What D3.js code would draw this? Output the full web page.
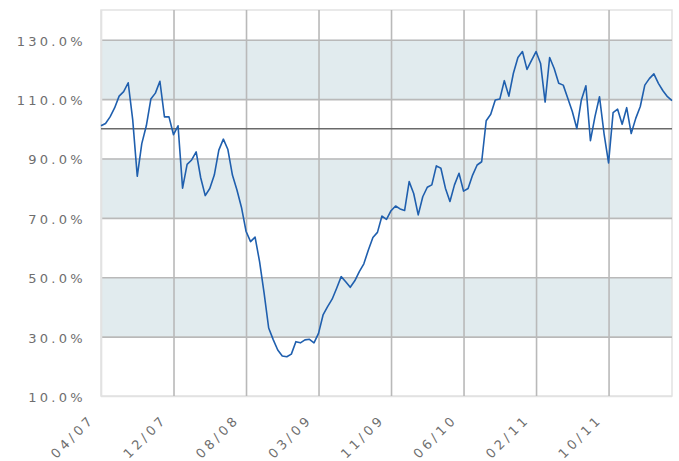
<!DOCTYPE html>
<html>
<head>
<meta charset="utf-8">
<script src="https://cdn.jsdelivr.net/npm/d3@7/dist/d3.min.js"></script>
<style>
  body { margin: 0; background: #fff; }
  svg text { font-family: "DejaVu Sans", Verdana, sans-serif; fill: #6e6e6e; }
</style>
</head>
<body>
<div id="chart"></div>
<script>
"use strict";

// relative performance (%), one value per step, 16 steps between date labels
var values = [
  101.0, 101.8, 104.0, 107.0, 111.0, 112.5, 115.5, 103.0, 84.0, 95.0,
  101.0, 110.0, 112.0, 116.0, 104.0, 104.0, 98.0, 101.0, 80.0, 88.0,
  89.5, 92.2, 83.5, 77.5, 79.9, 84.4, 92.8, 96.5, 93.0, 84.4,
  79.4, 73.5, 65.5, 62.0, 63.5, 55.2, 44.6, 32.9, 29.0, 25.5,
  23.5, 23.2, 24.1, 28.3, 27.9, 28.9, 29.1, 27.9, 31.1, 37.3,
  40.1, 42.6, 46.3, 50.2, 48.5, 46.6, 48.8, 51.9, 54.5, 59.2,
  63.4, 65.1, 70.6, 69.5, 72.4, 74.0, 73.0, 72.5, 82.2, 78.2,
  71.0, 77.1, 80.3, 81.1, 87.5, 86.7, 80.0, 75.5, 81.1, 85.0,
  79.0, 79.9, 84.4, 87.8, 88.9, 102.7, 104.9, 109.7, 110.0, 116.2,
  111.0, 118.7, 124.0, 126.0, 120.0, 123.0, 126.0, 122.0, 109.0, 124.0,
  120.3, 115.3, 114.7, 110.3, 105.8, 100.1, 109.7, 114.5, 96.0, 104.1,
  110.8, 98.4, 88.5, 105.4, 106.6, 101.5, 107.1, 98.4, 103.5, 107.5,
  114.7, 116.9, 118.5, 115.3, 112.8, 110.8, 109.5
];

var dateLabels = ["04/07", "12/07", "08/08", "03/09", "11/09", "06/10", "02/11", "10/11"];
var labelStep = 16;

var yTicks = [10, 30, 50, 70, 90, 110, 130];
var shadedBands = [[30, 50], [70, 90], [110, 130]];
var baseline = 100;

var width = 679, height = 461;
var margin = { top: 10, right: 7, bottom: 65, left: 101 };
var innerW = width - margin.left - margin.right,
    innerH = height - margin.top - margin.bottom;

var svg = d3.select("#chart").append("svg")
  .attr("width", width)
  .attr("height", height);

var g = svg.append("g")
  .attr("transform", "translate(" + margin.left + "," + margin.top + ")");

var x = d3.scaleLinear().domain([0, values.length - 1]).range([0, innerW]);
var y = d3.scaleLinear().domain([10, 140]).range([innerH, 0]);

// shaded bands
g.selectAll("rect.band")
  .data(shadedBands)
  .enter()
  .append("rect")
  .attr("class", "band")
  .attr("x", 0)
  .attr("width", innerW)
  .attr("y", function(d) { return y(d[1]); })
  .attr("height", function(d) { return y(d[0]) - y(d[1]); })
  .style("fill", "#e1ebee");

// plot frame
g.append("rect")
  .attr("x", 0).attr("y", 0)
  .attr("width", innerW).attr("height", innerH)
  .style("fill", "none")
  .style("stroke", "#e2e2e2")
  .style("stroke-width", 1.5);

// horizontal grid + labels
var yAxis = d3.axisLeft(y)
  .tickValues(yTicks)
  .tickSize(-innerW)
  .tickPadding(15)
  .tickFormat(function(d) { return d3.format(".1f")(d) + "%"; });

var yg = g.append("g").call(yAxis);
yg.select(".domain").remove();
yg.selectAll(".tick line")
  .style("stroke", function(d) { return d === 10 ? "#e2e2e2" : "#b9b9b9"; })
  .style("stroke-width", 1.6);
yg.selectAll(".tick text")
  .style("font-size", "13px")
  .style("letter-spacing", "3.3px")
  .attr("dy", "0.42em");

// vertical grid + date labels
var tickIdx = dateLabels.map(function(d, i) { return i * labelStep; });
var xAxis = d3.axisBottom(x)
  .tickValues(tickIdx)
  .tickSize(-innerH)
  .tickFormat(function(d, i) { return dateLabels[i]; });

var xg = g.append("g")
  .attr("transform", "translate(0," + innerH + ")")
  .call(xAxis);
xg.select(".domain").remove();
xg.selectAll(".tick line")
  .style("stroke", function(d) { return d === 0 ? "#e2e2e2" : "#b9b9b9"; })
  .style("stroke-width", 1.6);
xg.selectAll(".tick text")
  .style("font-size", "13px")
  .style("letter-spacing", "3.6px")
  .style("text-anchor", "end")
  .attr("dy", 0)
  .attr("y", 0)
  .attr("transform", "translate(-6,24) rotate(-45)");

// 100% reference line
g.append("line")
  .attr("x1", 0).attr("x2", innerW)
  .attr("y1", y(baseline)).attr("y2", y(baseline))
  .style("stroke", "#6a6a6a")
  .style("stroke-width", 1.3);

// performance line
var line = d3.line()
  .x(function(d, i) { return x(i); })
  .y(function(d) { return y(d); });

g.append("path")
  .datum(values)
  .attr("d", line)
  .style("fill", "none")
  .style("stroke", "#1f5fae")
  .style("stroke-width", 1.6)
  .style("stroke-linejoin", "round");
</script>
</body>
</html>
